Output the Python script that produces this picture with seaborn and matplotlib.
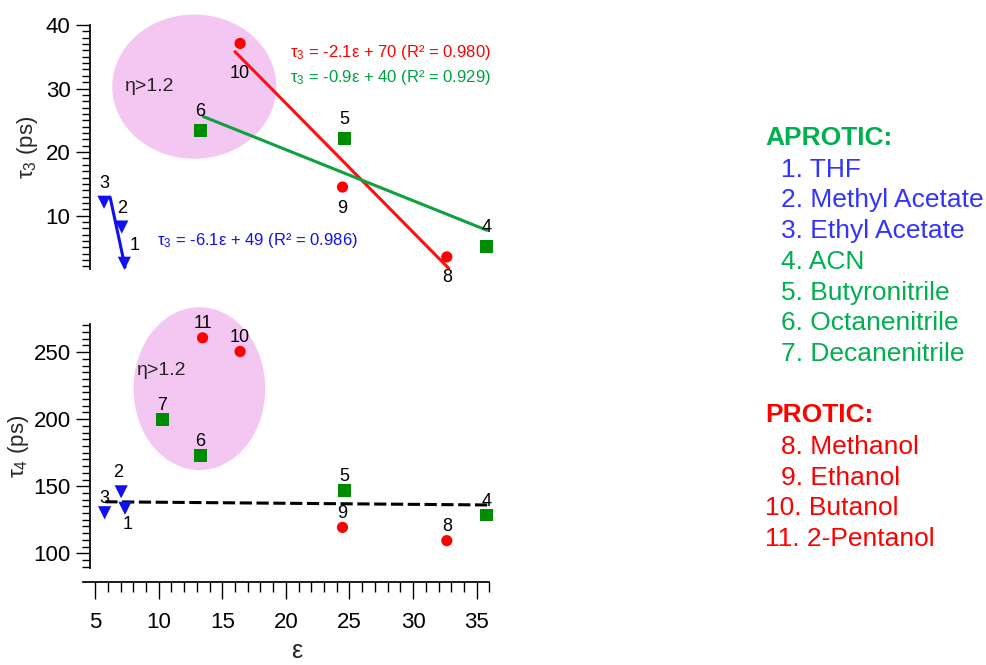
import numpy as np
import pandas as pd
import matplotlib
matplotlib.use("Agg")
import matplotlib.pyplot as plt
from matplotlib.patches import Ellipse
from matplotlib.ticker import MultipleLocator
import seaborn as sns

# ---------------- data ----------------
ids = [1, 2, 3, 4, 5, 6, 7, 8, 9, 10, 11]
groups = ["ester", "ester", "ester", "nitrile", "nitrile", "nitrile", "nitrile",
          "alcohol", "alcohol", "alcohol", "alcohol"]
eps_top = [7.3, 7.1, 5.7, 35.8, 24.6, 13.3, np.nan, 32.65, 24.45, 16.4, np.nan]
tau3 = [2.5, 8.2, 12.1, 5.1, 22.2, 23.4, np.nan, 3.5, 14.5, 37.1, np.nan]
eps_bot = [7.35, 7.05, 5.75, 35.8, 24.6, 13.3, 10.3, 32.65, 24.45, 16.4, 13.45]
tau4 = [133.5, 145.8, 130.2, 128.5, 147.0, 173.1, 200.0, 109.4, 119.3, 250.5, 260.7]

# fitted lines (end points)
fit_ester_x, fit_ester_y = [6.18, 7.36], [12.9, 1.9]
fit_nitrile_x, fit_nitrile_y = [13.5, 35.8], [25.6, 7.7]
fit_alcohol_x, fit_alcohol_y = [16.0, 32.8], [35.8, 1.7]
mean_tau4_x, mean_tau4_y = [5.8, 36.05], [138.4, 136.0]

eq_alcohol = "τ$_3$ = -2.1ε + 70 (R² = 0.980)"
eq_nitrile = "τ$_3$ = -0.9ε + 40 (R² = 0.929)"
eq_ester = "τ$_3$ = -6.1ε + 49 (R² = 0.986)"

aprotic = ["1. THF", "2. Methyl Acetate", "3. Ethyl Acetate", "4. ACN",
           "5. Butyronitrile", "6. Octanenitrile", "7. Decanenitrile"]
protic = ["8. Methanol", "9. Ethanol", "10. Butanol", "11. 2-Pentanol"]

# label placement (above / below / upper-right)
place_top = ["ur", "a", "a", "a", "a", "a", "a", "b", "b", "b2", "a"]
place_bot = ["b", "a2", "a", "a", "a", "a", "a", "a", "a", "a", "a"]

# ---------------- style ----------------
sns.set_theme(style="white")
plt.rcParams["font.family"] = ["Liberation Sans", "DejaVu Sans"]
plt.rcParams["mathtext.default"] = "regular"

palette = {"ester": "#1010F0", "nitrile": "#008C00", "alcohol": "#FF0000"}
markers = {"ester": "v", "nitrile": "s", "alcohol": "o"}
sizes = {"ester": 90, "nitrile": 85, "alcohol": 65}
pink = "#F4C6F2"

fig = plt.figure(figsize=(9.87, 6.65), dpi=100)
W, H = 987, 665


def axes_px(left, top, right, bottom):
    return fig.add_axes([left / W, 1 - bottom / H, (right - left) / W, (bottom - top) / H])


ax1 = axes_px(83, 25, 489.4, 269)
ax2 = axes_px(83, 324, 489.4, 568)

df_top = pd.DataFrame({"id": ids, "group": groups, "eps": eps_top, "tau": tau3}).dropna()
df_bot = pd.DataFrame({"id": ids, "group": groups, "eps": eps_bot, "tau": tau4})

offsets = {"a": (0, 19), "a2": (-3, 19), "b": (0, -21), "b2": (0, -30), "ur": (10, 18)}
offsets_bot = {"a": (0, 14), "a2": (-3, 19), "b": (3, -16)}

# ellipses
ax1.add_patch(Ellipse((12.8, 30.3), 12.9, 22.7, facecolor=pink, edgecolor="none",
                      clip_on=False, zorder=0))
ax2.add_patch(Ellipse((13.2, 222.8), 10.35, 121.5, facecolor=pink, edgecolor="none",
                      clip_on=False, zorder=0))

# fit lines
sns.lineplot(x=fit_alcohol_x, y=fit_alcohol_y, ax=ax1, color="#FF1010", lw=2.2, zorder=2)
sns.lineplot(x=fit_nitrile_x, y=fit_nitrile_y, ax=ax1, color="#10A040", lw=2.2, zorder=2)
sns.lineplot(x=fit_ester_x, y=fit_ester_y, ax=ax1, color="#1010F0", lw=2.2, zorder=2)
sns.lineplot(x=mean_tau4_x, y=mean_tau4_y, ax=ax2, color="black", lw=2.2,
             linestyle=(0, (4, 1.5)), zorder=2)

for ax, df in [(ax1, df_top), (ax2, df_bot)]:
    for g in ["ester", "nitrile", "alcohol"]:
        sub = df[df.group == g]
        sns.scatterplot(data=sub, x="eps", y="tau", ax=ax, color=palette[g],
                        marker=markers[g], s=sizes[g], edgecolor="none", zorder=3,
                        legend=False, clip_on=False)

for _, r in df_top.iterrows():
    dx, dy = offsets[place_top[int(r.id) - 1]]
    ax1.annotate(str(int(r.id)), (r.eps, r.tau), xytext=(dx, dy), textcoords="offset pixels",
                 ha="center", va="center", fontsize=13, color="black", zorder=4)
for _, r in df_bot.iterrows():
    dx, dy = offsets_bot[place_bot[int(r.id) - 1]]
    ax2.annotate(str(int(r.id)), (r.eps, r.tau), xytext=(dx, dy), textcoords="offset pixels",
                 ha="center", va="center", fontsize=13, color="black", zorder=4)

ax1.text(9.3, 30.3, "η>1.2", fontsize=14, ha="center", va="center")
ax2.text(10.2, 236.5, "η>1.2", fontsize=14, ha="center", va="center")

ax1.text(20.3, 35.6, eq_alcohol, color="#FF0000", fontsize=12, ha="left", va="center")
ax1.text(20.3, 31.8, eq_nitrile, color="#00A040", fontsize=12, ha="left", va="center")
ax1.text(9.85, 6.1, eq_ester, color="#1010F0", fontsize=12, ha="left", va="center")

# axes styling
for ax in (ax1, ax2):
    ax.set_xlim(4.05, 36)
    ax.set_facecolor("none")
    for s in ["top", "right"]:
        ax.spines[s].set_visible(False)
    ax.spines["left"].set_position(("data", 4.6))
    ax.spines["left"].set_color("black")
    ax.tick_params(axis="y", which="major", direction="out", length=10, width=1,
                   labelsize=16, colors="black", pad=4, left=True)
    ax.tick_params(axis="y", which="minor", direction="out", length=6, width=1,
                   colors="black", left=True)
    ax.set_xlabel("")
    ax.set_ylabel("")

ax1.set_ylim(1.6, 40)
ax1.set_yticks([10, 20, 30, 40])
ax1.yaxis.set_minor_locator(MultipleLocator(1))
ax1.spines["bottom"].set_visible(False)
ax1.set_xticks([])

ax2.set_ylim(89, 271)
ax2.set_yticks([100, 150, 200, 250])
ax2.yaxis.set_minor_locator(MultipleLocator(5))
ax2.spines["bottom"].set_position(("outward", 10))
ax2.spines["bottom"].set_color("black")
ax2.set_xticks([5, 10, 15, 20, 25, 30, 35])
ax2.xaxis.set_minor_locator(MultipleLocator(1))
ax2.tick_params(axis="x", which="major", direction="out", length=12, width=1,
                labelsize=16, colors="black", pad=10, bottom=True)
ax2.tick_params(axis="x", which="minor", direction="out", length=7, width=1,
                colors="black", bottom=True)

ax1.set_ylabel("τ$_3$ (ps)", fontsize=16)
ax1.yaxis.set_label_coords(-0.105, 0.5)
ax2.set_ylabel("τ$_4$ (ps)", fontsize=16)
ax2.yaxis.set_label_coords(-0.128, 0.5)
ax2.set_xlabel("ε", fontsize=18)
ax2.xaxis.set_label_coords(0.525, -0.29)

# right-hand legend text
fs = 19
fig.text(765 / W, 1 - 138 / H, "APROTIC:", color="#00B050", fontsize=fs,
         fontweight="bold", ha="left", va="center")
ys = [170, 200, 231, 262, 293, 323, 354]
for t, y in zip(aprotic, ys):
    c = "#3333FF" if int(t.split(".")[0]) <= 3 else "#00B050"
    fig.text(781 / W, 1 - y / H, t, color=c, fontsize=fs, ha="left", va="center")
fig.text(765 / W, 1 - 415 / H, "PROTIC:", color="#FF0000", fontsize=fs,
         fontweight="bold", ha="left", va="center")
ys = [447, 478, 508, 539]
for t, y in zip(protic, ys):
    x = 765 if t.startswith("1") and t[1].isdigit() else 781
    fig.text(x / W, 1 - y / H, t, color="#FF0000", fontsize=fs, ha="left", va="center")

fig.savefig("out.png", dpi=100)
